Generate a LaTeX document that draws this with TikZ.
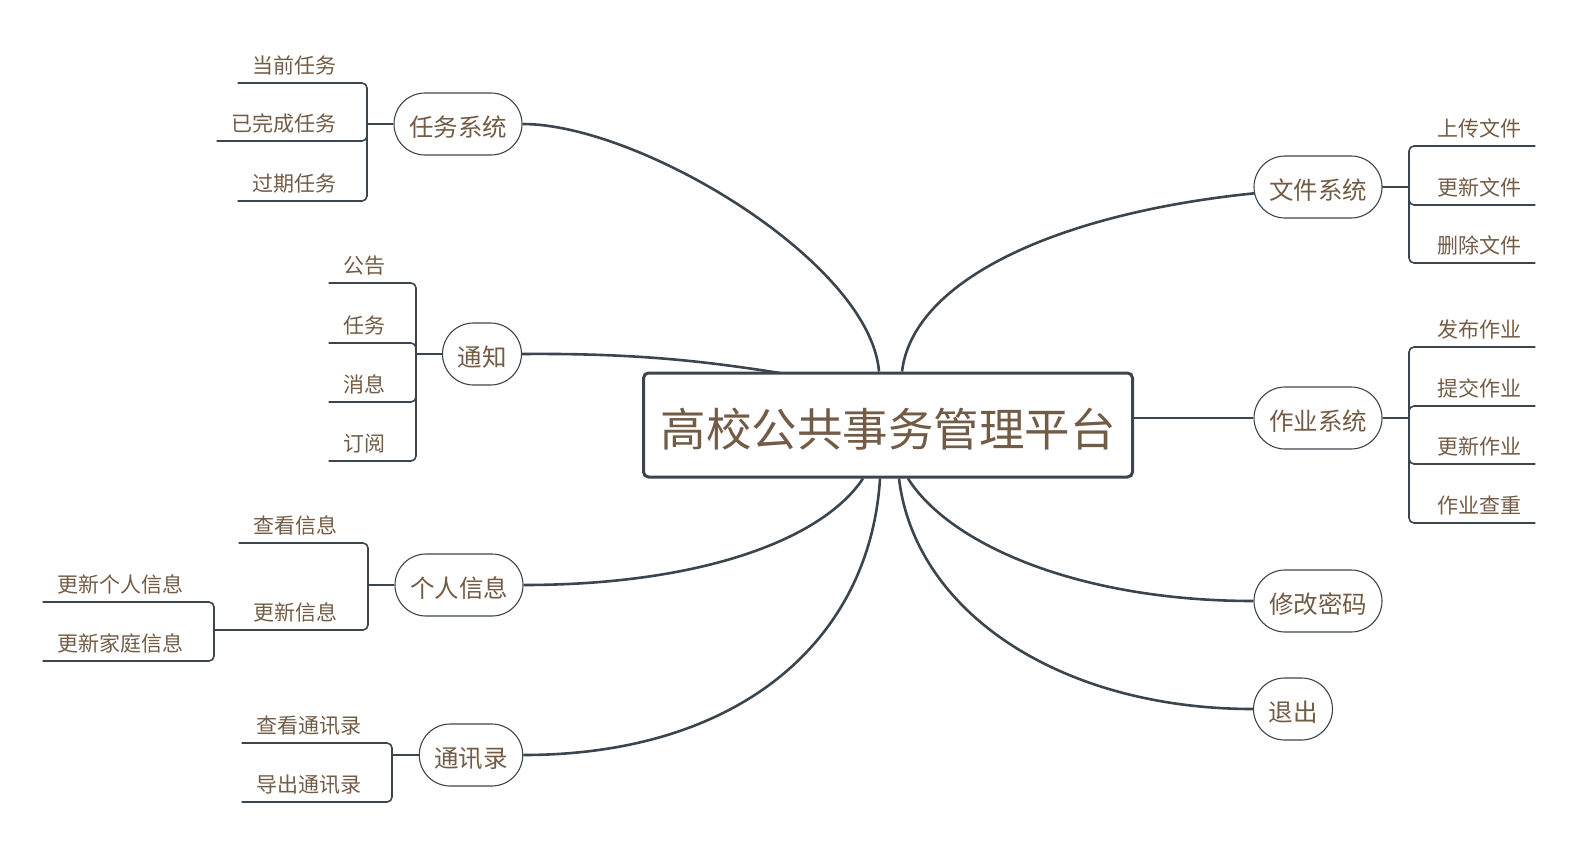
\documentclass[tikz,border=0pt]{standalone}
\usepackage{fontspec}
\newfontfamily\cjk{Noto Sans CJK SC}
\definecolor{linec}{RGB}{59,69,78}
\definecolor{textc}{RGB}{115,92,70}
\pgfdeclarelayer{bg}
\pgfsetlayers{bg,main}
\begin{document}
\begin{tikzpicture}[x=1pt,y=-1pt,
  rootbox/.style={draw=linec, line width=3pt, rounded corners=5pt, fill=white,
    text=textc, font=\cjk\fontsize{45.5}{46}\selectfont,
    minimum width=489pt, minimum height=104pt, inner sep=0pt,
    text height=44pt, text depth=1.5pt},
  topic/.style={draw=linec, line width=1.1pt, rounded corners=31pt, fill=white,
    text=textc, font=\cjk\fontsize{24.5}{25}\selectfont,
    minimum height=62pt, inner xsep=15pt, inner ysep=0pt,
    text height=24.7pt, text depth=0pt},
  leafl/.style={text=textc, font=\cjk\fontsize{21}{22}\selectfont,
    minimum height=34pt, inner xsep=15pt, inner ysep=0pt,
    text height=18.5pt, text depth=3pt, anchor=south east},
  leafr/.style={leafl, inner xsep=14pt, anchor=south west},
  mainlink/.style={draw=linec, line width=2.6pt},
  sublink/.style={draw=linec, line width=2pt},
  leaflink/.style={draw=linec, line width=1.6pt, rounded corners=5pt},
]
\useasboundingbox (0,0) rectangle (1589,854);

% central topic
\node[rootbox] (root) at (888,425) {高校公共事务管理平台};

% main topics
\node[topic] (tasks)   at (458,124) {任务系统};
\node[topic] (notice)  at (482,354) {通知};
\node[topic] (person)  at (459,585) {个人信息};
\node[topic] (contact) at (471,755) {通讯录};
\node[topic] (files)   at (1318,187) {文件系统};
\node[topic] (work)    at (1318,418) {作业系统};
\node[topic] (pwd)     at (1318,601) {修改密码};
\node[topic] (quit)    at (1293,709) {退出};

% junction points of the brackets
\coordinate (jt) at (367,124);
\coordinate (jn) at (416,354);
\coordinate (jp) at (368,585);
\coordinate (ju) at (214,630);
\coordinate (jc) at (392,755);
\coordinate (jf) at (1409,187);
\coordinate (jw) at (1409,418);

% subtopics
\node[leafl] (t1) at (352,83)  {当前任务};
\node[leafl] (t2) at (352,141) {已完成任务};
\node[leafl] (t3) at (352,201) {过期任务};

\node[leafl] (n1) at (401,283) {公告};
\node[leafl] (n2) at (401,343) {任务};
\node[leafl] (n3) at (401,402) {消息};
\node[leafl] (n4) at (401,461) {订阅};

\node[leafl] (p1) at (353,543) {查看信息};
\node[leafl] (p2) at (353,630) {更新信息};
\node[leafl] (u1) at (199,602) {更新个人信息};
\node[leafl] (u2) at (199,661) {更新家庭信息};

\node[leafl] (c1) at (377,743) {查看通讯录};
\node[leafl] (c2) at (377,802) {导出通讯录};

\node[leafr] (f1) at (1423,146) {上传文件};
\node[leafr] (f2) at (1423,205) {更新文件};
\node[leafr] (f3) at (1423,263) {删除文件};

\node[leafr] (w1) at (1423,347) {发布作业};
\node[leafr] (w2) at (1423,406) {提交作业};
\node[leafr] (w3) at (1423,464) {更新作业};
\node[leafr] (w4) at (1423,523) {作业查重};

\begin{pgfonlayer}{bg}
  % curved links from the central topic
  \draw[mainlink] (tasks.east) .. controls (640,124) and (870,262) .. ([xshift=-9pt]root.north);
  \draw[mainlink] (notice.east) .. controls (640,353) and (710,362) .. ([xshift=-105pt,yshift=-2pt]root.north);
  \draw[mainlink] (person.east) .. controls (700,585) and (822,540) .. ([xshift=-25pt]root.south);
  \draw[mainlink] (contact.east) .. controls (740,755) and (870,640) .. ([xshift=-8pt]root.south);
  \draw[mainlink] (files.east) .. controls (1120,187) and (915,262) .. ([xshift=14pt]root.north);
  \draw[mainlink] (work.west) -- (work.west -| root.east);
  \draw[mainlink] (pwd.west) .. controls (1080,601) and (950,545) .. ([xshift=20pt]root.south);
  \draw[mainlink] (quit.west) .. controls (1060,709) and (915,612) .. ([xshift=11pt]root.south);

  % brackets of subtopics
  \draw[sublink] (tasks.west) -- (jt);
  \draw[leaflink] (t1.south west) -| (jt);
  \draw[leaflink] (t2.south west) -| (jt);
  \draw[leaflink] (t3.south west) -| (jt);

  \draw[sublink] (notice.west) -- (jn);
  \draw[leaflink] (n1.south west) -| (jn);
  \draw[leaflink] (n2.south west) -| (jn);
  \draw[leaflink] (n3.south west) -| (jn);
  \draw[leaflink] (n4.south west) -| (jn);

  \draw[sublink] (person.west) -- (jp);
  \draw[leaflink] (p1.south west) -| (jp);
  \draw[leaflink] (p2.south west) -| (jp);
  \draw[leaflink] (p2.south west) -- (ju);
  \draw[leaflink] (u1.south west) -| (ju);
  \draw[leaflink] (u2.south west) -| (ju);

  \draw[sublink] (contact.west) -- (jc);
  \draw[leaflink] (c1.south west) -| (jc);
  \draw[leaflink] (c2.south west) -| (jc);

  \draw[sublink] (files.east) -- (jf);
  \draw[leaflink] (f1.south east) -| (jf);
  \draw[leaflink] (f2.south east) -| (jf);
  \draw[leaflink] (f3.south east) -| (jf);

  \draw[sublink] (work.east) -- (jw);
  \draw[leaflink] (w1.south east) -| (jw);
  \draw[leaflink] (w2.south east) -| (jw);
  \draw[leaflink] (w3.south east) -| (jw);
  \draw[leaflink] (w4.south east) -| (jw);
\end{pgfonlayer}
\end{tikzpicture}
\end{document}
